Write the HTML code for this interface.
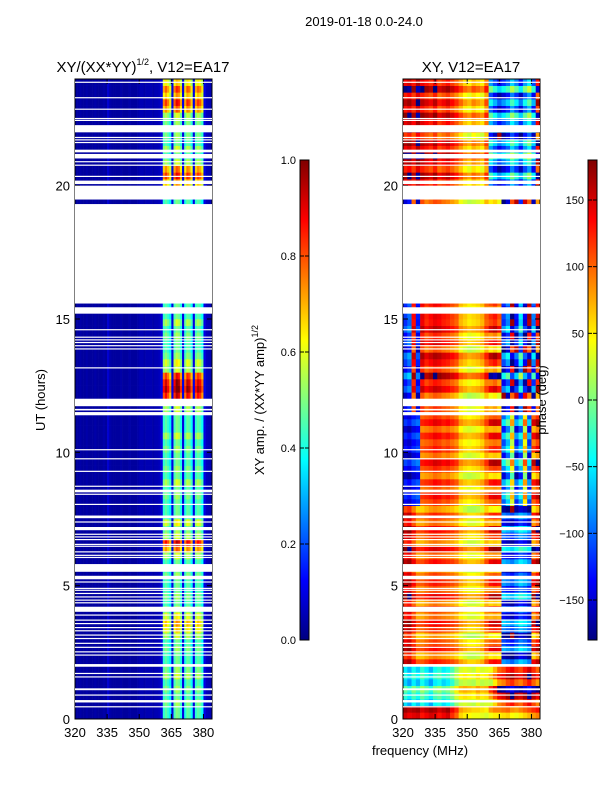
<!DOCTYPE html>
<html><head><meta charset="utf-8">
<style>
body{margin:0;background:#fff;}
svg text{font-family:"Liberation Sans",sans-serif;fill:#000;}
</style></head>
<body>
<svg id="fig" width="600" height="800" viewBox="0 0 600 800" xmlns="http://www.w3.org/2000/svg">
<text x="364" y="26" font-size="13" text-anchor="middle">2019-01-18 0.0-24.0</text>
<text x="143" y="72" font-size="15" text-anchor="middle">XY/(XX*YY)<tspan font-size="9" dy="-7">1/2</tspan><tspan dy="7">, V12=EA17</tspan></text>
<text x="471" y="72" font-size="15" text-anchor="middle">XY, V12=EA17</text>
<text x="45" y="400" font-size="13" text-anchor="middle" transform="rotate(-90 45 400)">UT (hours)</text>
<text x="420" y="755" font-size="13" text-anchor="middle">frequency (MHz)</text>
<text x="264" y="400" font-size="13" text-anchor="middle" transform="rotate(-90 264 400)">XY amp. / (XX*YY amp)<tspan font-size="9" dy="-6">1/2</tspan></text>
<g id="left"></g>
<g id="right"></g>
<g id="axes"></g>
<text x="546" y="400" font-size="13" text-anchor="middle" transform="rotate(-90 546 400)">phase (deg)</text>
</svg>
<script>
// ---- data ----
const freqStartMHz = 320, freqEndMHz = 384;
const xTickLabels = [320, 335, 350, 365, 380];
const yTickLabels = [0, 5, 10, 15, 20];
const ampTickLabels = [0.0, 0.2, 0.4, 0.6, 0.8, 1.0];
const phaseTickLabels = [-150, -100, -50, 0, 50, 100, 150];
// amplitude per 1 MHz channel (320..383)
const ampCols = [0.03,0.03,0.04,0.03,0.03,0.04,0.03,0.03,0.03,0.04,0.03,0.03,0.03,0.04,0.03,0.08,0.04,0.03,0.03,0.03,
 0.03,0.04,0.03,0.03,0.03,0.04,0.03,0.03,0.03,0.04,0.05,0.05,0.04,0.05,0.05,0.05,0.04,0.05,0.05,0.06,0.1,
 0.42,0.46,0.42,0.36,0.1,0.44,0.5,0.48,0.4,0.1,0.4,0.47,0.45,0.38,0.1,0.42,0.46,0.44,0.38,0.1,0.06,0.05,0.05];
// row gain per 0.25 h (0..24h)
const rowGain = [1,1,1.1,1, 1.1,1,1.2,1.1, 1,1,1.1,1, 1.2,1.4,1.5,1.3, 1.1,1,1.1,1, 1,1.1,1,1,
 1.2,1.6,1.9,1.2, 1.1,1.3,1,1, 1,1.1,1,1.2, 1,1.1,1,1, 1.1,1,1.2,1, 1,1,1.2,1.4,
 1.9,2.1,2,1.8, 1.2,1.3,1.1,1, 1,1.1,1,1.2, 1,1,1,1, 1,1,1,1, 1,1,1,1, 1,1,1,1,
 1,1,1.1,1, 1.5,1.8,1.6,1.2, 1,1.2,1,1.1, 1,1.1,1.2,1.6, 1.8,1.5,1.7,1.4];
// phase profiles per 2 MHz channel (320..382), degrees
const phaseP0 = [150,140,145,150,130,140,150,145,130,140,150,120,100,60,50,45,40,40,35,30,40,50,50,55,60,45,40,50,60,70,80,90];
const phaseP1 = [-40,-60,-30,-50,-20,-40,-60,-30,-20,-40,-30,-10,20,40,45,40,35,50,40,45,60,90,120,130,150,160,140,130,150,170,140,120];
const phaseP2 = [140,150,120,90,90,100,110,115,110,105,100,95,85,65,55,45,45,50,60,90,100,105,100,-110,-120,-130,-110,-90,-100,-120,110,130];
const phaseP3 = [-140,-150,-130,-120,100,105,110,120,115,105,110,100,90,60,50,45,50,55,65,90,100,105,100,-100,-60,30,-120,-80,50,-110,100,120];
const phaseP4 = [-120,-100,130,-130,140,120,130,140,135,125,120,110,100,70,60,50,55,60,70,100,110,120,100,-120,-90,170,-140,-60,-150,160,-100,140];
const phaseP5 = [150,160,140,170,150,140,130,150,120,130,140,125,110,90,70,60,80,70,60,100,-60,-90,-120,-100,-80,-40,-70,-110,-60,-30,-90,150];
const rowProfile = [0,0,1,1, 1,1,1,1, 2,2,2,2, 2,2,2,2, 2,2,2,2, 2,2,2,2, 2,2,2,2, 2,2,2,2,
 3,3,3,3, 3,3,3,3, 3,3,3,3, 3,3,4,4, 4,4,4,4, 4,4,4,4, 4,4,4,4, 4,4,4,4,
 4,4,4,4, 4,4,4,4, 4,4,4,4, 4,4,5,5, 5,5,5,5, 5,5,5,5, 5,5,5,5, 5,5,5,5];
const rowShift = [0,20,-15,10, 30,-20,5,-10, 15,-25,20,0, -30,10,25,-15, 5,-20,30,-5, 15,0,-25,20,
 -10,35,-20,5, 25,-15,10,-30, 0,20,-10,15, -25,5,30,-20, 10,-5,20,-15, 25,0,-20,30,
 -35,15,-10,40, -20,5,25,-30, 10,-15,20,0, 5,-10,0,0, 0,0,0,0, 0,0,0,0, 0,0,15,-20,
 25,-30,10,35, -15,20,-25,5, 30,-10,15,-35, 20,-5,25,-20, 10,-25,30,-10];
// flagged (blank) time ranges in hours
const flagged = [[0.44,0.48],[0.62,0.71],[0.88,0.92],[1.08,1.15],[1.56,1.6],[1.69,1.73],[1.96,2.06],[2.38,2.42],[2.5,2.54],
 [2.67,2.71],[2.82,2.86],[3.0,3.04],[3.13,3.17],[3.29,3.33],[3.41,3.45],[3.56,3.6],[3.69,3.73],[3.88,3.92],[4.02,4.21],
 [4.34,4.38],[4.44,4.48],[4.56,4.6],[4.69,4.73],[4.81,4.85],[4.88,4.92],[5.12,5.16],[5.24,5.37],[5.52,5.81],[6.04,6.08],
 [6.12,6.16],[6.25,6.29],[6.46,6.5],[6.53,6.57],[6.71,6.75],[6.81,6.85],[6.91,6.95],[7.08,7.2],[7.37,7.41],[7.53,7.63],
 [8.03,8.07],[8.41,8.45],[8.5,8.6],[8.71,8.75],[9.27,9.31],[9.74,9.78],[10.08,10.12],[11.39,11.51],[11.57,11.63],
 [11.73,12.01],[13.15,13.19],[13.86,13.9],[13.98,14.02],[14.1,14.14],[14.2,14.24],[14.3,14.34],[14.58,14.62],
 [15.2,15.44],[15.58,19.31],[19.48,20.0],[20.06,20.19],[20.33,20.37],[20.75,20.79],[20.88,20.92],[21.02,21.19],
 [21.25,21.35],[21.6,21.64],[21.7,21.74],[21.79,21.83],[22.0,22.27],[22.43,22.47],[22.5,22.54],[22.85,22.89],[23.28,23.32],[23.86,23.9]];

// ---- helpers ----
const NS = "http://www.w3.org/2000/svg";
const svg = document.getElementById('fig');
const plotTop = 79, plotBot = 719;
const yS = h => plotBot - (plotBot - plotTop) * h / 24;
function xS(left, f){ return left + (f - freqStartMHz) * 137 / (freqEndMHz - freqStartMHz); }
function jet(t){
  t = Math.max(0, Math.min(1, t));
  const c = v => Math.round(255 * Math.max(0, Math.min(1, v)));
  return `rgb(${c(1.5-Math.abs(4*t-3))},${c(1.5-Math.abs(4*t-2))},${c(1.5-Math.abs(4*t-1))})`;
}
function mk(tag, attrs, parent){
  const e = document.createElementNS(NS, tag);
  for (const k in attrs) e.setAttribute(k, attrs[k]);
  (parent || svg).appendChild(e);
  return e;
}
const wrap = v => ((v + 180) % 360 + 360) % 360 - 180;
const profiles = [phaseP0, phaseP1, phaseP2, phaseP3, phaseP4, phaseP5];

// ---- amplitude heatmap ----
const gL = document.getElementById('left');
const LX = 75, RX = 403;
rowGain.forEach((g, r) => {
  const y0 = yS((r+1)*0.25), y1 = yS(r*0.25);
  ampCols.forEach((a, c) => {
    const v = a > 0.2 ? Math.min(1, a * g) : a;
    const el = mk('rect', {x: xS(LX, freqStartMHz + c).toFixed(2), y: y0.toFixed(2),
      width: (xS(LX, freqStartMHz + c + 1) - xS(LX, freqStartMHz + c) + 0.3).toFixed(2),
      height: (y1 - y0 + 0.3).toFixed(2), fill: jet(v)}, gL);
    
    
  });
});
// ---- phase heatmap ----
const gR = document.getElementById('right');
rowProfile.forEach((p, r) => {
  const y0 = yS((r+1)*0.25), y1 = yS(r*0.25);
  const sh = rowShift[r] || 0;
  profiles[p].forEach((ph, c) => {
    const v = wrap(ph + sh * (c > 19 ? 2 : 1));
    const el = mk('rect', {x: xS(RX, freqStartMHz + 2*c).toFixed(2), y: y0.toFixed(2),
      width: (xS(RX, freqStartMHz + 2*c + 2) - xS(RX, freqStartMHz + 2*c) + 0.3).toFixed(2),
      height: (y1 - y0 + 0.3).toFixed(2), fill: jet((v + 180) / 360)}, gR);
    
    
  });
});
// ---- flagged rows ----
flagged.forEach(([lo, hi]) => {
  [LX, RX].forEach(px => {
    const el = mk('rect', {x: px, y: yS(hi).toFixed(2), width: 137, height: Math.max(1.2, yS(lo) - yS(hi)).toFixed(2), fill: '#fff'});
    
    
  });
});

// ---- axes ----
const gA = document.getElementById('axes');
[LX, RX].forEach((px, i) => {
  const fr = mk('rect', {x: px, y: plotTop, width: 137, height: plotBot - plotTop, fill: 'none', stroke: '#000', 'stroke-width': 1}, gA);
  
  
  xTickLabels.forEach(f => {
    const x = xS(px, f);
    mk('line', {x1: x, x2: x, y1: plotBot, y2: plotBot - 5, stroke: '#000'}, gA);
    mk('line', {x1: x, x2: x, y1: plotTop, y2: plotTop + 5, stroke: '#000'}, gA);
    const t = mk('text', {x: x, y: plotBot + 18, 'font-size': 13, 'text-anchor': 'middle'}, gA);
    t.textContent = f;
    
    
  });
  yTickLabels.forEach(h => {
    const y = yS(h);
    mk('line', {x1: px, x2: px + 5, y1: y, y2: y, stroke: '#000'}, gA);
    mk('line', {x1: px + 137, x2: px + 132, y1: y, y2: y, stroke: '#000'}, gA);
    const t = mk('text', {x: px - 5, y: y + 5, 'font-size': 13, 'text-anchor': 'end'}, gA);
    t.textContent = h;
    
    
  });
});
// ---- colorbars ----
const defs = mk('defs', {});
const grad = mk('linearGradient', {id: 'jetg', x1: 0, y1: 1, x2: 0, y2: 0}, defs);
for (let i = 0; i <= 32; i++) mk('stop', {offset: i/32, 'stop-color': jet(i/32)}, grad);
function colorbar(x, name, ticks, lo, hi, fmt){
  const cb = mk('rect', {x: x, y: 160, width: 9, height: 480, fill: 'url(#jetg)', stroke: '#000', 'stroke-width': 1});
  
  
  ticks.forEach(v => {
    const y = 640 - 480 * (v - lo) / (hi - lo);
    mk('line', {x1: x + 9, x2: x + 5, y1: y, y2: y, stroke: '#000'});
    mk('line', {x1: x, x2: x + 4, y1: y, y2: y, stroke: '#000'});
    const t = mk('text', {x: x - 4, y: y + 4, 'font-size': 11, 'text-anchor': 'end'});
    t.textContent = fmt(v);
    
    
  });
}
colorbar(300, 'amp-colorbar', ampTickLabels, 0, 1, v => v.toFixed(1));
colorbar(588, 'phase-colorbar', phaseTickLabels, -180, 180, v => v < 0 ? '\u2212' + (-v) : String(v));
</script>
</body></html>
